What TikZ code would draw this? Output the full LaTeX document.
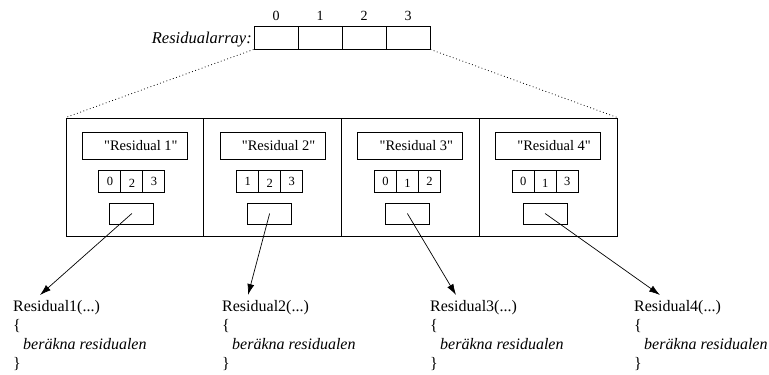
\documentclass[tikz,border=0pt]{standalone}
\usepackage{fontspec}
\setmainfont{Liberation Serif}[Ligatures=TeXOff]
\usetikzlibrary{arrows.meta}
\begin{document}
\begin{tikzpicture}[x=1pt,y=-1pt,
  box/.style={draw, line width=0.9pt, inner sep=0pt, minimum width=#1},
  box/.default=44pt,
  cell/.style={draw, line width=0.9pt, inner sep=0pt, minimum width=22pt, minimum height=22pt},
  dotline/.style={line width=0.8pt, dash pattern=on 0.8pt off 2.6pt},
  arr/.style={line width=0.7pt, -{Latex[length=11pt,width=7pt]}},
  code/.style={font=\fontsize{16}{19}\selectfont, anchor=base west, inner sep=0pt},
  lbl/.style={font=\fontsize{14}{16}\selectfont, anchor=base, inner sep=0pt},
  digit/.style={font=\fontsize{12.5}{14}\selectfont, anchor=base, inner sep=0pt}]
\useasboundingbox (0,0) rectangle (769,375);

% the top-level array of four slots with its indices
\foreach \i in {0,...,3} {
  \node[box, minimum height=23pt] (r\i) at ({276+44*\i},37.5) {};
  \node[lbl] (l\i) at ({276+44*\i},20) {\i};
}
\node[font=\fontsize{16.5}{18}\selectfont\itshape, anchor=base east, inner sep=0pt] (title) at (252,43) {Residualarray:};

% the four residual records
\foreach \k in {1,...,4} {
  \pgfmathsetmacro{\c}{66+137.75*(\k-0.5)}
  \node[box=137.75pt, minimum height=118pt] (p\k) at (\c,177) {};
  \node[box=105pt, minimum height=27pt] (n\k) at (\c,145.5) {};
  \node[font=\fontsize{14.5}{16}\selectfont, inner sep=0pt] (s\k) at (\c+6,145.5) {"Residual \k"};
  \node[box, minimum height=21pt] (b\k) at (\c-3,213.5) {};
  \foreach \j in {0,1,2} {
    \node[cell] (c\k\j) at ({\c-3+22*(\j-1)},181) {};
  }
}

% index lists stored in each record (middle entry sits a little lower)
\foreach \k/\a/\b/\d in {1/0/2/3, 2/1/2/3, 3/0/1/2, 4/0/1/3} {
  \node[digit] at ([yshift=-4pt]c\k0.center) {\a};
  \node[digit] at ([yshift=-6.5pt]c\k1.center) {\b};
  \node[digit] at ([yshift=-4pt]c\k2.center) {\d};
}

% zoom lines from the array to the records
\draw[dotline] (r0.south west) -- (p1.north west);
\draw[dotline] (r3.south east) -- (p4.north east);

% function bodies and the pointers to them
\foreach \k/\x/\tx in {1/40/13, 2/248/222, 3/456/430, 4/660/634} {
  \coordinate (e\k) at (\x,295);
  \draw[arr] (b\k.center) -- (e\k);
  \node[code] (f\k) at (\tx,311) {Residual\k(...)};
  \node[code] (o\k) at (\tx,330) {\{};
  \node[code] (m\k) at (\tx+10,349) {\textit{beräkna residualen}};
  \node[code] (z\k) at (\tx,368) {\}};
}
\end{tikzpicture}
\end{document}
